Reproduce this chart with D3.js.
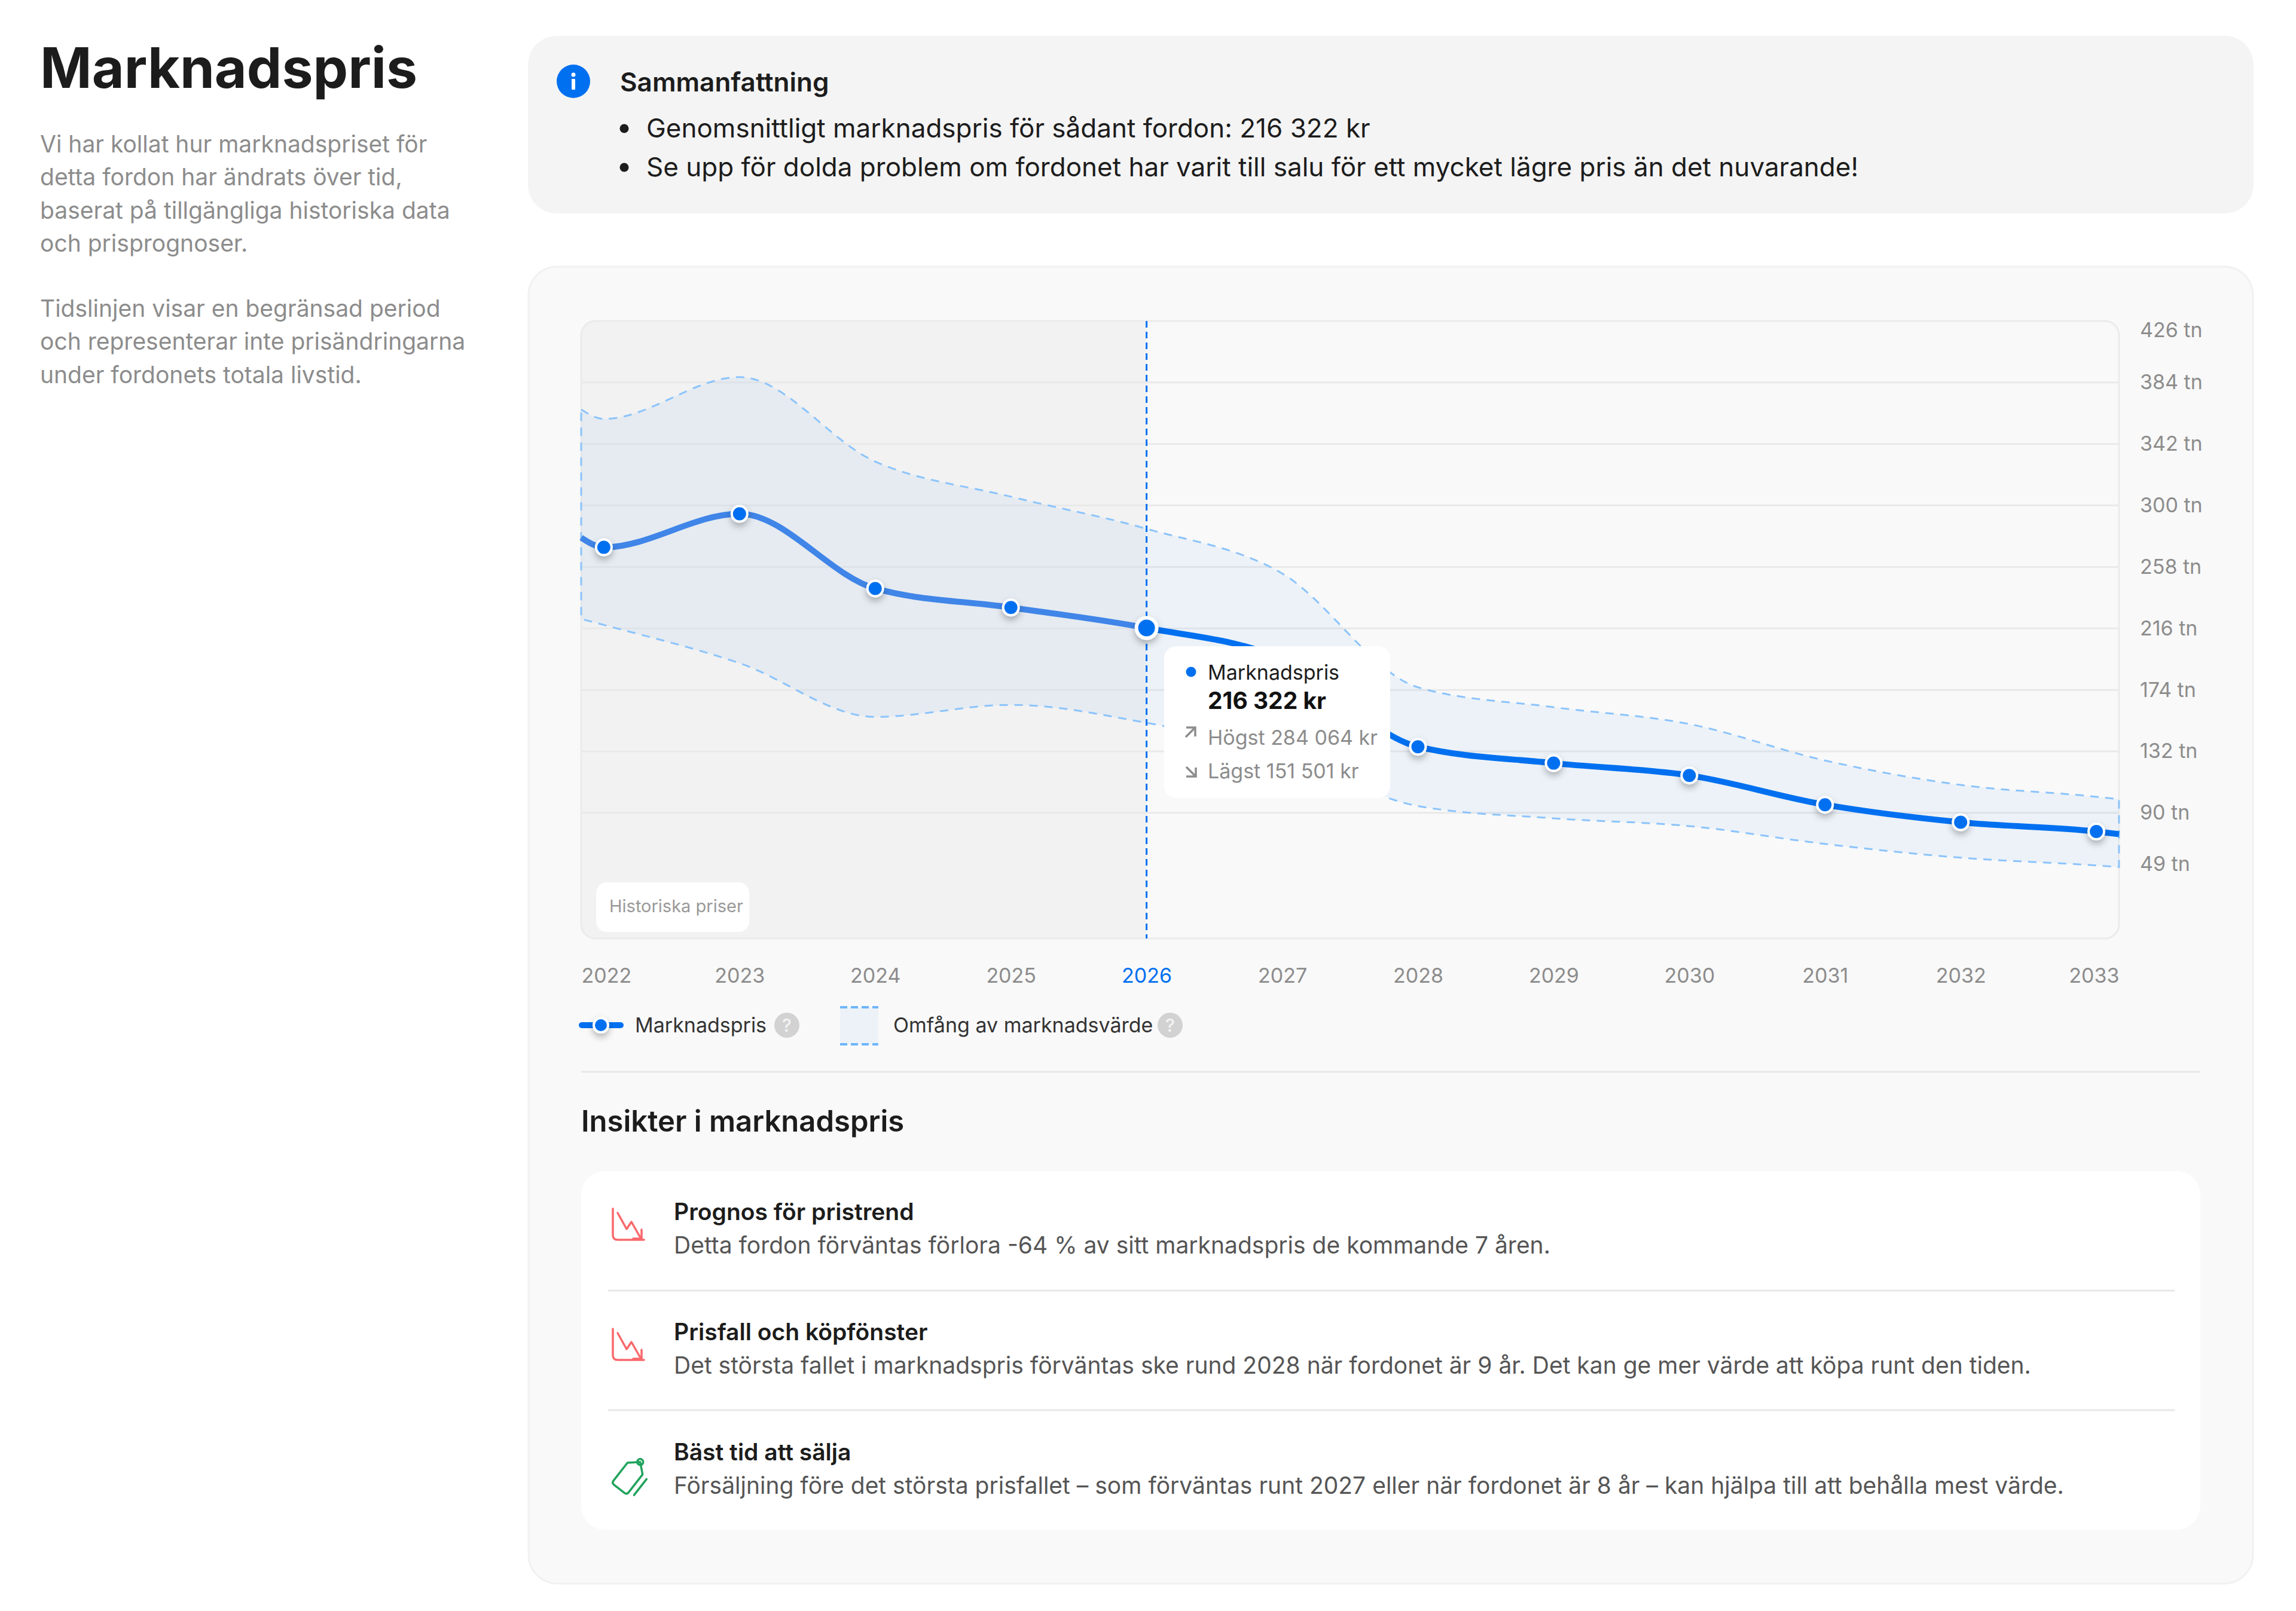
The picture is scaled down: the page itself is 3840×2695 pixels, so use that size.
<!DOCTYPE html>
<html lang="sv">
<head>
  <meta charset="UTF-8">
  <title>Marknadspris</title>
  <script src="https://d3js.org/d3.v7.min.js"></script>
  <style>
    html, body { margin: 0; padding: 0; background: #fff; }
    svg { display: block; font-family: Inter, sans-serif; }
    .axis path, .axis line { display: none; }
  </style>
</head>
<body>
<div id="chart"></div>
<script>
  // chart values, all in thousands of kr ("tn")
  var years = [2022, 2023, 2024, 2025, 2026, 2027, 2028, 2029, 2030, 2031, 2032, 2033];
  var marketPrice = [271.4, 294.3, 243.3, 230.3, 216.322, 195, 135.2, 124, 115.6, 95.6, 83.6, 77.3];
  var highPrice = [359.1, 387.7, 330, 306, 284.064, 253.5, 175.8, 162.2, 150.7, 125.8, 109.1, 101];
  var lowPrice = [218.4, 192.3, 155.6, 163.8, 151.501, 130, 94.7, 86.3, 81, 68.8, 59.4, 54.1];
  // the curves run on a little past the first and last year
  var edgeYears = [2021.833, 2033.167];
  var edgeMarket = [278, 75.5];
  var edgeHigh = [365.6, 99.3];
  var edgeLow = [222.5, 53];
  var yTickValues = [426, 384, 342, 300, 258, 216, 174, 132, 90, 49];
  var gridValues = [384, 342, 300, 258, 216, 174, 132, 90];
  var currentYear = 2026;

  var introLines = [
    ['Vi har kollat hur marknadspriset för', 255],
    ['detta fordon har ändrats över tid,', 310],
    ['baserat på tillgängliga historiska data', 366],
    ['och prisprognoser.', 421],
    ['Tidslinjen visar en begränsad period', 530],
    ['och representerar inte prisändringarna', 585],
    ['under fordonets totala livstid.', 641]
  ];
  var summaryLines = [
    ['Genomsnittligt marknadspris för sådant fordon: 216 322 kr', 230],
    ['Se upp för dolda problem om fordonet har varit till salu för ett mycket lägre pris än det nuvarande!', 295]
  ];
  var insights = [
    ['Prognos för pristrend', 'Detta fordon förväntas förlora -64 % av sitt marknadspris de kommande 7 åren.', 2041, 'down'],
    ['Prisfall och köpfönster', 'Det största fallet i marknadspris förväntas ske rund 2028 när fordonet är 9 år. Det kan ge mer värde att köpa runt den tiden.', 2242, 'down'],
    ['Bäst tid att sälja', 'Försäljning före det största prisfallet – som förväntas runt 2027 eller när fordonet är 8 år – kan hjälpa till att behålla mest värde.', 2443, 'tag']
  ];

  var BLUE = '#0070f0';
  var DASH_BLUE = '#8cc4fb';
  var GREY = '#8c8c8c';

  var svg = d3.select('#chart').append('svg')
    .attr('width', 3840)
    .attr('height', 2695);

  var defs = svg.append('defs');

  var shadow = defs.append('filter').attr('id', 'dotShadow')
    .attr('x', '-100%').attr('y', '-100%').attr('width', '300%').attr('height', '300%');
  shadow.append('feDropShadow').attr('dx', 0).attr('dy', 6).attr('stdDeviation', 6)
    .attr('flood-color', '#000').attr('flood-opacity', 0.28);

  /** small helper so the long list of labels stays readable */
  function label(parent, x, y, str, size, color, weight) {
    return parent.append('text')
      .attr('x', x)
      .attr('y', y)
      .attr('font-size', size)
      .attr('font-weight', weight || 400)
      .attr('fill', color)
      .text(str);
  }

  /** left column */
  label(svg, 67, 147, 'Marknadspris', 93, '#1c1c1c', 700);
  introLines.forEach(function(d) { label(svg, 67, d[1], d[0], 39, GREY); });

  /** summary panel */
  svg.append('rect').attr('x', 883).attr('y', 60).attr('width', 2886).attr('height', 297)
    .attr('rx', 48).attr('fill', '#f4f4f4');
  svg.append('circle').attr('cx', 959).attr('cy', 136).attr('r', 28).attr('fill', BLUE);
  svg.append('circle').attr('cx', 959).attr('cy', 125).attr('r', 3.5).attr('fill', '#fff');
  svg.append('rect').attr('x', 956).attr('y', 132).attr('width', 6).attr('height', 18).attr('rx', 1).attr('fill', '#fff');
  label(svg, 1037, 153, 'Sammanfattning', 44, '#1c1c1c', 600);
  summaryLines.forEach(function(d) {
    svg.append('circle').attr('cx', 1044).attr('cy', d[1] - 15).attr('r', 7.5).attr('fill', '#1c1c1c');
    label(svg, 1081, d[1], d[0], 44, '#1c1c1c');
  });

  /** main panel */
  svg.append('rect').attr('x', 884).attr('y', 446).attr('width', 2884).attr('height', 2203)
    .attr('rx', 48).attr('fill', '#f9f9f9').attr('stroke', '#f1f1f1').attr('stroke-width', 3);

  /** scales */
  var plot = { left: 972, right: 3544, top: 537, bottom: 1570 };
  var x = d3.scaleLinear().domain(edgeYears).range([plot.left, plot.right]);
  var y = d3.scaleLinear().domain([4.2, 426]).range([plot.bottom, plot.top]);

  defs.append('clipPath').attr('id', 'plotClip').append('rect')
    .attr('x', plot.left).attr('y', plot.top)
    .attr('width', plot.right - plot.left).attr('height', plot.bottom - plot.top).attr('rx', 24);
  defs.append('clipPath').attr('id', 'historyClip').append('rect')
    .attr('x', plot.left - 10).attr('y', plot.top - 10)
    .attr('width', x(currentYear) - plot.left + 10).attr('height', plot.bottom - plot.top + 20);
  defs.append('clipPath').attr('id', 'forecastClip').append('rect')
    .attr('x', x(currentYear)).attr('y', plot.top - 10)
    .attr('width', plot.right - x(currentYear) + 10).attr('height', plot.bottom - plot.top + 20);

  /** historical shading */
  svg.append('rect')
    .attr('x', plot.left).attr('y', plot.top)
    .attr('width', x(currentYear) - plot.left).attr('height', plot.bottom - plot.top)
    .attr('fill', '#f2f2f2')
    .attr('clip-path', 'url(#plotClip)');

  /** grid */
  svg.append('g').selectAll('line').data(gridValues).enter().append('line')
    .attr('x1', plot.left).attr('x2', plot.right)
    .attr('y1', function(d) { return y(d); })
    .attr('y2', function(d) { return y(d); })
    .attr('stroke', '#e9e9e9').attr('stroke-width', 3);

  /** plot frame */
  svg.append('rect')
    .attr('x', plot.left).attr('y', plot.top)
    .attr('width', plot.right - plot.left).attr('height', plot.bottom - plot.top)
    .attr('rx', 24).attr('fill', 'none').attr('stroke', '#ebebeb').attr('stroke-width', 3);

  /** join the series, plus their edge points */
  function withEdges(values, edges) {
    var rows = years.map(function(yr, i) { return { year: yr, value: values[i] }; });
    rows.unshift({ year: edgeYears[0], value: edges[0] });
    rows.push({ year: edgeYears[1], value: edges[1] });
    return rows;
  }
  var marketRows = withEdges(marketPrice, edgeMarket);
  var highRows = withEdges(highPrice, edgeHigh);
  var lowRows = withEdges(lowPrice, edgeLow);

  var bandArea = d3.area()
    .x(function(d) { return x(d.year); })
    .y0(function(d, i) { return y(lowRows[i].value); })
    .y1(function(d) { return y(d.value); })
    .curve(d3.curveMonotoneX);

  svg.append('path').datum(highRows)
    .attr('d', bandArea)
    .attr('fill', BLUE).attr('fill-opacity', 0.05)
    .attr('stroke', DASH_BLUE).attr('stroke-width', 3).attr('stroke-dasharray', '14 11');

  /** the price line, washed out over the history */
  var priceLine = d3.line()
    .x(function(d) { return x(d.year); })
    .y(function(d) { return y(d.value); })
    .curve(d3.curveMonotoneX);

  svg.append('path').datum(marketRows).attr('d', priceLine)
    .attr('fill', 'none').attr('stroke', '#4085e8').attr('stroke-width', 10)
    .attr('clip-path', 'url(#historyClip)');
  svg.append('path').datum(marketRows).attr('d', priceLine)
    .attr('fill', 'none').attr('stroke', BLUE).attr('stroke-width', 10)
    .attr('clip-path', 'url(#forecastClip)');

  /** current year marker line */
  svg.append('line')
    .attr('x1', x(currentYear)).attr('x2', x(currentYear))
    .attr('y1', plot.top).attr('y2', plot.bottom)
    .attr('stroke', BLUE).attr('stroke-width', 3).attr('stroke-dasharray', '11 7');

  /** points, the 2027 one sits under the tooltip */
  svg.append('g').selectAll('circle').data(years).enter().append('circle')
    .attr('cx', function(d) { return x(d); })
    .attr('cy', function(d, i) { return y(marketPrice[i]); })
    .attr('r', function(d) { return d === currentYear ? 17 : 13; })
    .attr('fill', BLUE)
    .attr('stroke', '#fff')
    .attr('stroke-width', function(d) { return d === currentYear ? 6 : 4; })
    .attr('filter', 'url(#dotShadow)');

  /** "Historiska priser" badge */
  svg.append('rect').attr('x', 997).attr('y', 1476).attr('width', 256).attr('height', 83)
    .attr('rx', 18).attr('fill', '#fff');
  label(svg, 1019, 1526, 'Historiska priser', 29, '#999');

  /** axes */
  var yAxis = d3.axisRight(y)
    .tickValues(yTickValues)
    .tickSize(0)
    .tickPadding(35)
    .tickFormat(function(d) { return d + ' tn'; });
  var yAxisG = svg.append('g').attr('class', 'axis')
    .attr('transform', 'translate(' + plot.right + ',0)')
    .call(yAxis);
  yAxisG.selectAll('text')
    .attr('font-family', 'Inter, sans-serif')
    .attr('font-size', 34)
    .attr('fill', GREY)
    // the outermost labels are pushed inside the plot height
    .attr('transform', function(d) {
      if (d === 426) return 'translate(0,16)';
      if (d === 49) return 'translate(0,-15)';
      return null;
    });

  var xAxis = d3.axisBottom(x)
    .tickValues(years)
    .tickSize(0)
    .tickPadding(50)
    .tickFormat(d3.format('d'));
  var xAxisG = svg.append('g').attr('class', 'axis')
    .attr('transform', 'translate(0,' + plot.bottom + ')')
    .call(xAxis);
  xAxisG.selectAll('text')
    .attr('font-family', 'Inter, sans-serif')
    .attr('font-size', 34)
    .attr('fill', function(d) { return d === currentYear ? BLUE : GREY; })
    .attr('text-anchor', function(d) {
      if (d === years[0]) return 'start';
      if (d === years[years.length - 1]) return 'end';
      return 'middle';
    })
    .attr('dx', function(d) {
      if (d === years[0]) return plot.left - x(d);
      if (d === years[years.length - 1]) return plot.right - x(d);
      return 0;
    });

  /** tooltip */
  var tip = svg.append('g');
  tip.append('rect').attr('x', 1947).attr('y', 1081).attr('width', 378).attr('height', 254)
    .attr('rx', 20).attr('fill', '#fff');
  tip.append('circle').attr('cx', 1992).attr('cy', 1124).attr('r', 8.5).attr('fill', BLUE);
  label(tip, 2020, 1137, 'Marknadspris', 34, '#1c1c1c');
  label(tip, 2020, 1186, '216 322 kr', 39, '#111', 700);
  label(tip, 2020, 1246, 'Högst  284 064 kr', 34, GREY);
  label(tip, 2020, 1302, 'Lägst  151 501 kr', 34, GREY);
  tip.append('path').attr('d', 'M1984 1217h15v15M1999 1217l-16 16')
    .attr('fill', 'none').attr('stroke', GREY).attr('stroke-width', 3.5);
  tip.append('path').attr('d', 'M1984 1283l16 16M2000 1284v15h-16')
    .attr('fill', 'none').attr('stroke', GREY).attr('stroke-width', 3.5);

  /** legend */
  function helpDot(cx) {
    svg.append('circle').attr('cx', cx).attr('cy', 1715).attr('r', 21).attr('fill', '#d2d2d2');
    label(svg, cx, 1726, '?', 30, '#f4f4f4', 500).attr('text-anchor', 'middle');
  }
  svg.append('line').attr('x1', 973).attr('x2', 1038).attr('y1', 1715).attr('y2', 1715)
    .attr('stroke', BLUE).attr('stroke-width', 10).attr('stroke-linecap', 'round');
  svg.append('circle').attr('cx', 1005).attr('cy', 1715).attr('r', 12)
    .attr('fill', BLUE).attr('stroke', '#fff').attr('stroke-width', 4).attr('filter', 'url(#dotShadow)');
  label(svg, 1062, 1727, 'Marknadspris', 34, '#333');
  helpDot(1316);
  svg.append('rect').attr('x', 1405).attr('y', 1685).attr('width', 64).attr('height', 62)
    .attr('fill', BLUE).attr('fill-opacity', 0.05);
  [1685, 1747].forEach(function(ly) {
    svg.append('line').attr('x1', 1405).attr('x2', 1469).attr('y1', ly).attr('y2', ly)
      .attr('stroke', '#6db5fb').attr('stroke-width', 4).attr('stroke-dasharray', '12 6');
  });
  label(svg, 1494, 1727, 'Omfång av marknadsvärde', 34, '#333');
  helpDot(1957);

  /** insights */
  svg.append('line').attr('x1', 972).attr('x2', 3680).attr('y1', 1793).attr('y2', 1793)
    .attr('stroke', '#e8e8e8').attr('stroke-width', 3);
  label(svg, 972, 1893, 'Insikter i marknadspris', 49, '#1c1c1c', 600);
  svg.append('rect').attr('x', 972).attr('y', 1959).attr('width', 2708).attr('height', 600)
    .attr('rx', 40).attr('fill', '#fff');
  [2159, 2359].forEach(function(ly) {
    svg.append('line').attr('x1', 1017).attr('x2', 3637).attr('y1', ly).attr('y2', ly)
      .attr('stroke', '#e8e8e8').attr('stroke-width', 3);
  });

  function insightIcon(kind, baseY) {
    var g = svg.append('g').attr('fill', 'none').attr('stroke-linejoin', 'round').attr('stroke-linecap', 'round');
    var top = baseY - 19;
    if (kind === 'down') {
      g.attr('stroke', '#f9686c').attr('stroke-width', 3.5);
      g.append('path').attr('d', 'M1025 ' + top + 'v44q0 8 8 8h44');
      g.append('path').attr('d', 'M1033 ' + (top + 7) + 'l15 27 8-12 16 28');
      g.append('path').attr('d', 'M1073 ' + (top + 35) + 'v15h-14');
    } else {
      g.attr('stroke', '#1fa35c').attr('stroke-width', 3.5);
      g.attr('transform', 'translate(1051,' + (baseY + 28) + ') rotate(38)');
      g.append('path').attr('d', 'M-16 -18l16 -14 16 14v38q0 5 -5 5h-22q-5 0 -5 -5z');
      g.append('path').attr('d', 'M26 -16v34');
      g.append('circle').attr('cx', 0).attr('cy', -32).attr('r', 5);
    }
  }

  insights.forEach(function(d) {
    insightIcon(d[3], d[2]);
    label(svg, 1127, d[2], d[0], 39, '#1c1c1c', 600);
    label(svg, 1127, d[2] + 56, d[1], 39, '#555');
  });
</script>
</body>
</html>
